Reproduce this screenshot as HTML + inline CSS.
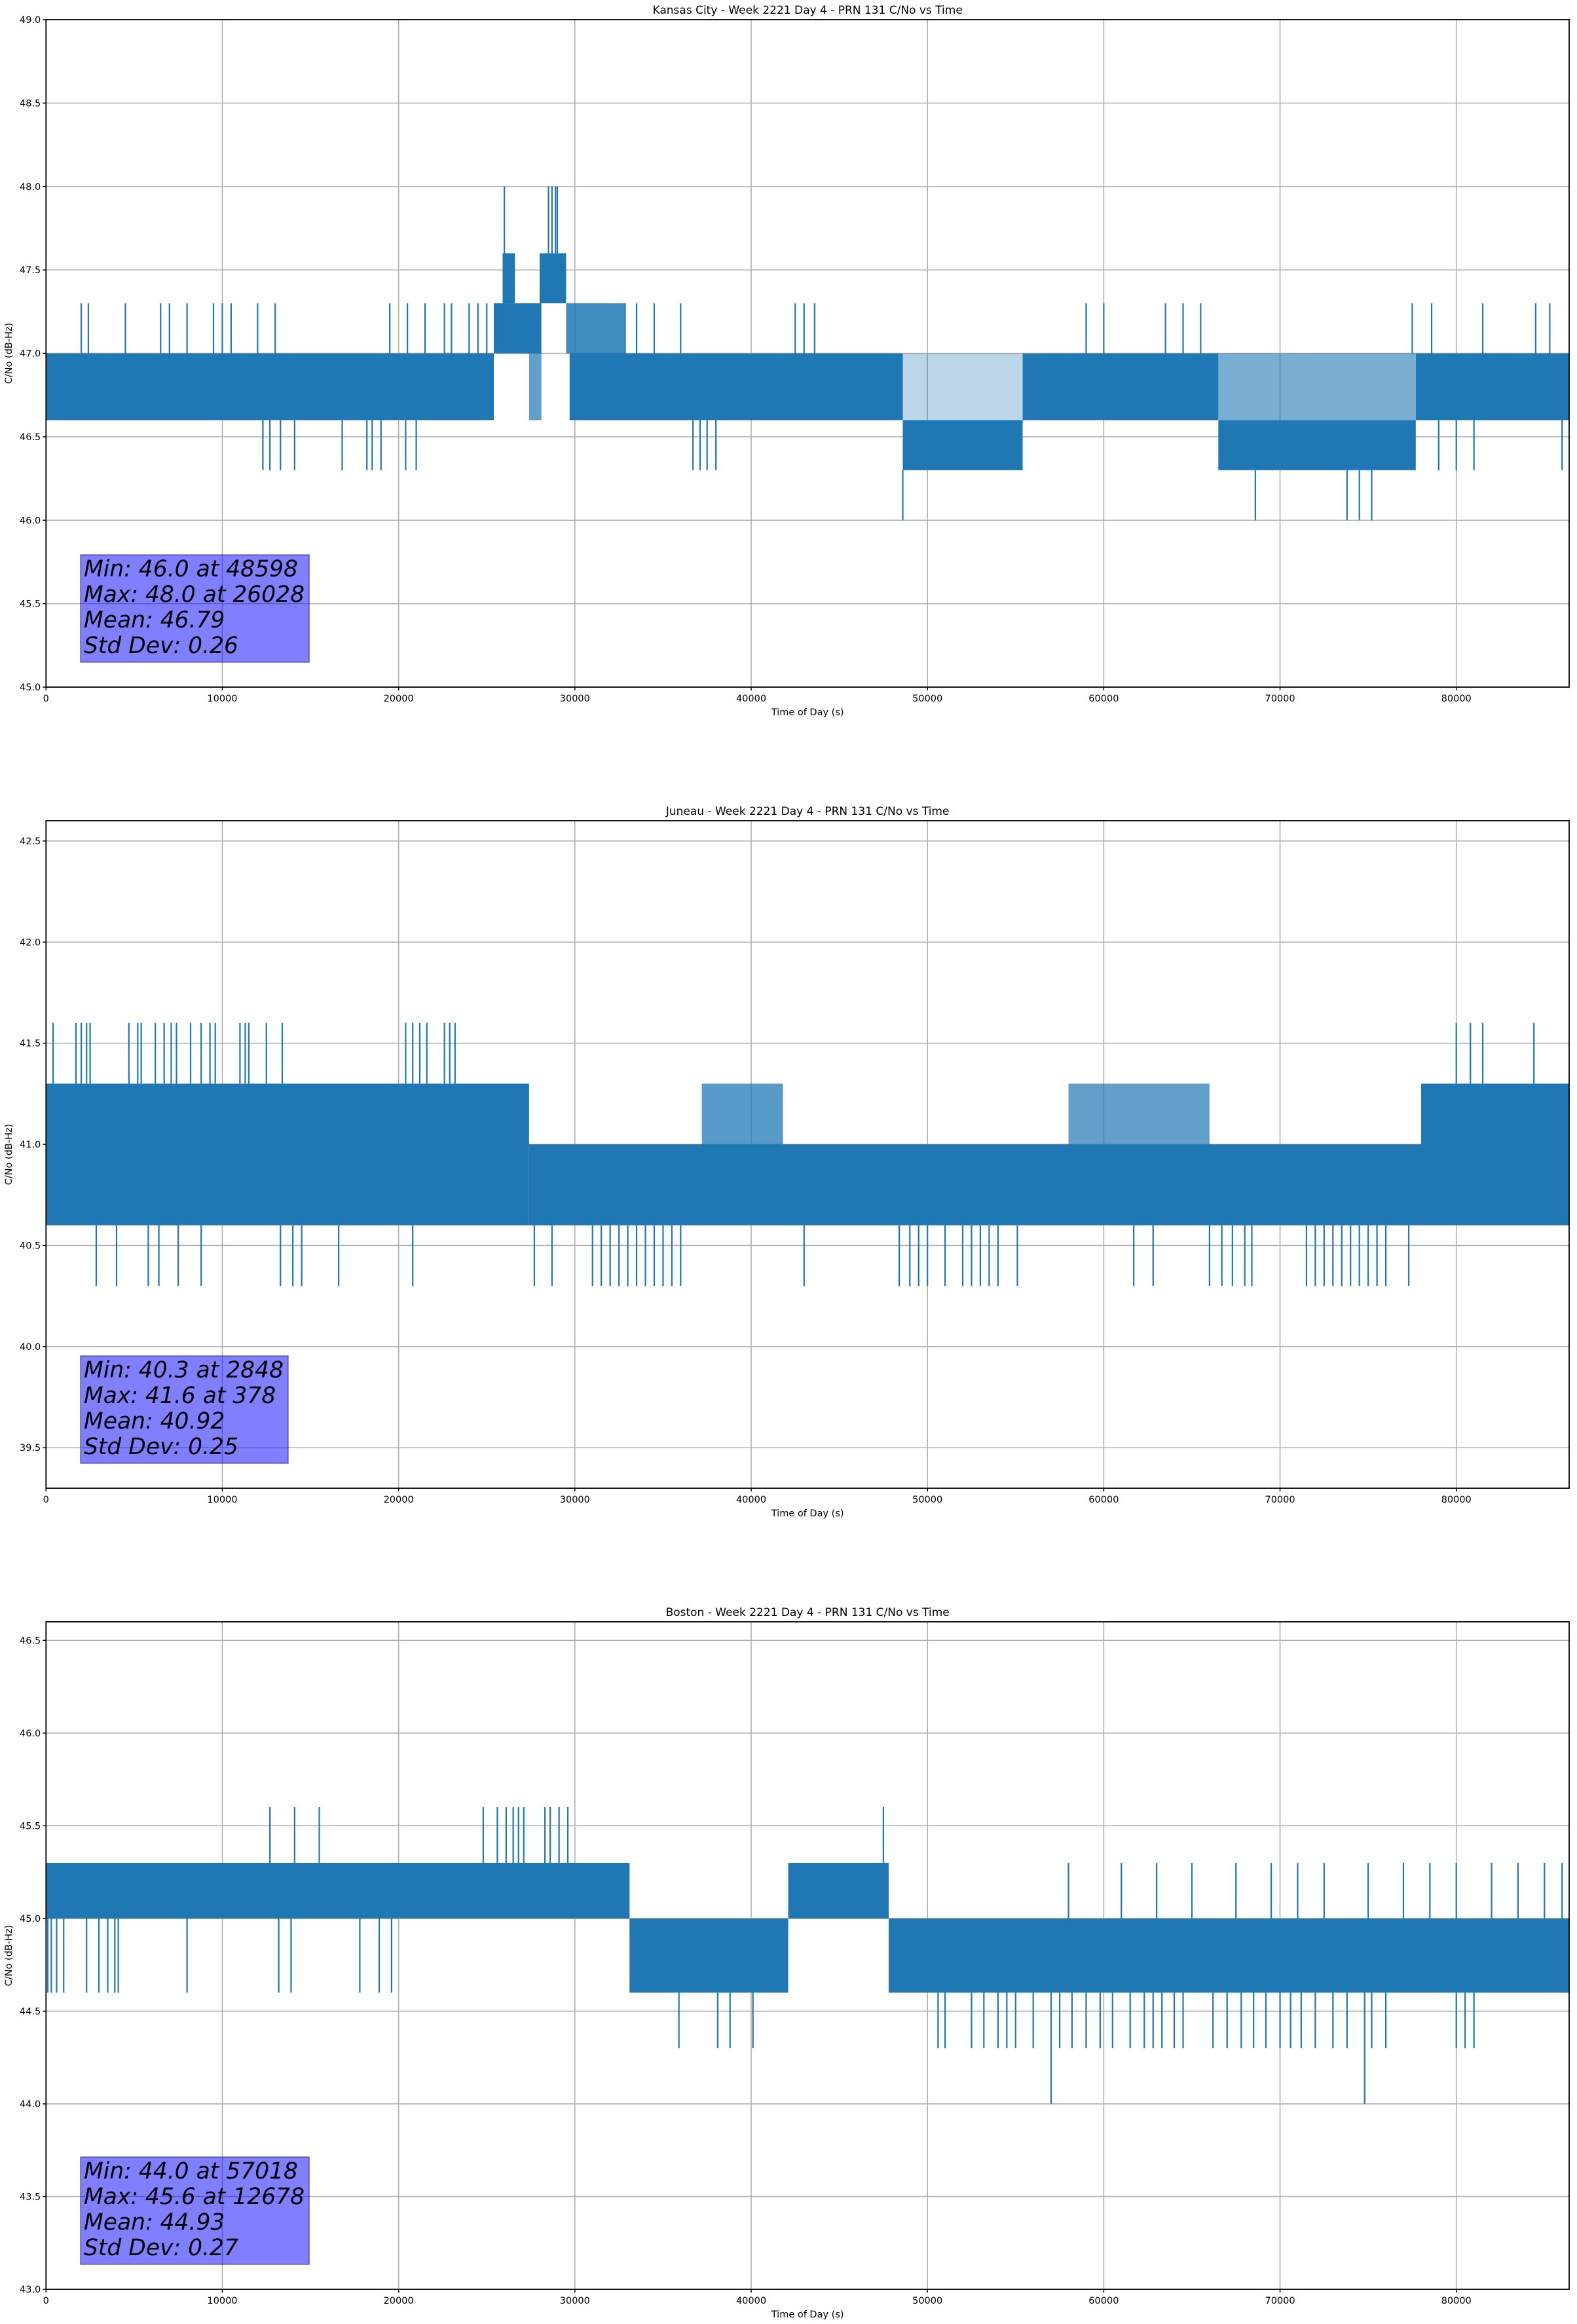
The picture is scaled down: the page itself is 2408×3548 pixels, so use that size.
<!DOCTYPE html>
<html><head><meta charset="utf-8"><style>
html,body{margin:0;padding:0;background:#fff}
svg{display:block}
text{font-family:"DejaVu Sans","Liberation Sans",sans-serif;fill:#000}
</style></head>
<body>
<svg id="fig" width="2408" height="3548" viewBox="0 0 2408 3548" xmlns="http://www.w3.org/2000/svg">
<rect x="0" y="0" width="2408" height="3548" fill="#fff"/>
</svg>
<script>
// ---------- data ----------
const xTicks = [0,10000,20000,30000,40000,50000,60000,70000,80000];
const titles = ["Kansas City - Week 2221 Day 4 - PRN 131 C/No vs Time",
                "Juneau - Week 2221 Day 4 - PRN 131 C/No vs Time",
                "Boston - Week 2221 Day 4 - PRN 131 C/No vs Time"];
const yLims = [[45,49],[39.3,42.6],[43,46.6]];
const yTicks1 = [45.0,45.5,46.0,46.5,47.0,47.5,48.0,48.5,49.0];
const yTicks2 = [39.5,40.0,40.5,41.0,41.5,42.0,42.5];
const yTicks3 = [43.0,43.5,44.0,44.5,45.0,45.5,46.0,46.5];
const stats1 = ["Min: 46.0 at 48598","Max: 48.0 at 26028","Mean: 46.79","Std Dev: 0.26"];
const stats2 = ["Min: 40.3 at 2848","Max: 41.6 at 378","Mean: 40.92","Std Dev: 0.25"];
const stats3 = ["Min: 44.0 at 57018","Max: 45.6 at 12678","Mean: 44.93","Std Dev: 0.27"];

// bands: [start, end, low, high, density]
const bands1 = [[0,25400,46.6,47.0,1],[25400,28100,47.0,47.3,1],[25900,26600,47.3,47.6,1],
 [28000,29500,47.3,47.6,1],[27400,28100,46.6,47.0,0.7],[29500,32900,47.0,47.3,0.85],
 [29700,48600,46.6,47.0,1],[48600,55400,46.3,46.6,1],[48600,55400,46.6,47.0,0.3],
 [55400,66500,46.6,47.0,1],[66500,77700,46.3,46.6,1],[66500,77700,46.6,47.0,0.6],
 [77700,86400,46.6,47.0,1]];
const spikeT1 = [2000,2400,4500,6500,7000,8000,9500,10000,10500,12000,13000,19500,20500,21500,22600,23000,24000,24500,25000,
 26000,28500,28700,28900,29000,33500,34500,36000,42500,43000,43600,59000,60000,63500,64500,65500,77500,78600,81500,84500,85300,
 12300,12700,13300,14100,16800,18200,18500,19000,20400,21000,36700,37100,37500,38000,79000,80000,81000,86000,
 48600,68600,73800,74500,75200];
const spikeV1 = [47.3,47.3,47.3,47.3,47.3,47.3,47.3,47.3,47.3,47.3,47.3,47.3,47.3,47.3,47.3,47.3,47.3,47.3,47.3,
 48.0,48.0,48.0,48.0,48.0,47.3,47.3,47.3,47.3,47.3,47.3,47.3,47.3,47.3,47.3,47.3,47.3,47.3,47.3,47.3,47.3,
 46.3,46.3,46.3,46.3,46.3,46.3,46.3,46.3,46.3,46.3,46.3,46.3,46.3,46.3,46.3,46.3,46.3,46.3,
 46.0,46.0,46.0,46.0,46.0];

const bands2 = [[0,27400,41.0,41.3,1],[0,27400,40.6,41.0,1],[27400,86400,40.6,41.0,1],
 [37200,41800,41.0,41.3,0.75],[58000,66000,41.0,41.3,0.7],[78000,86400,41.0,41.3,1]];
const spikeT2 = [400,1700,2000,2300,2500,4700,5200,5400,6200,6700,7100,7400,8200,8800,9300,9600,11000,11300,11500,12500,13400,
 20400,20800,21200,21600,22600,22900,23200,80000,80800,81500,84400,
 2848,4000,5800,6400,7500,8800,13300,14000,14500,16600,20800,27700,28700,31000,31500,32000,32500,33000,33500,34000,34500,35000,35500,36000,
 43000,48400,49000,49500,50000,51000,52000,52500,53000,53500,54000,55100,61700,62800,66000,66700,67300,68000,68400,
 71500,72000,72500,73000,73500,74000,74500,75000,75500,76000,77300];
const spikeV2 = [41.6,41.6,41.6,41.6,41.6,41.6,41.6,41.6,41.6,41.6,41.6,41.6,41.6,41.6,41.6,41.6,41.6,41.6,41.6,41.6,41.6,
 41.6,41.6,41.6,41.6,41.6,41.6,41.6,41.6,41.6,41.6,41.6,
 40.3,40.3,40.3,40.3,40.3,40.3,40.3,40.3,40.3,40.3,40.3,40.3,40.3,40.3,40.3,40.3,40.3,40.3,40.3,40.3,40.3,40.3,40.3,40.3,
 40.3,40.3,40.3,40.3,40.3,40.3,40.3,40.3,40.3,40.3,40.3,40.3,40.3,40.3,40.3,40.3,40.3,40.3,40.3,
 40.3,40.3,40.3,40.3,40.3,40.3,40.3,40.3,40.3,40.3,40.3];

const bands3 = [[0,33100,45.0,45.3,1],[33100,42100,44.6,45.0,1],[42100,47800,45.0,45.3,1],[47800,86400,44.6,45.0,1]];
const spikeT3 = [100,300,600,1000,2300,3000,3500,3900,4100,8000,13200,13900,17800,18900,19600,
 12700,14100,15500,24800,25600,26100,26500,26800,27100,28300,28600,29100,29600,47500,
 35900,38100,38800,40100,
 50600,51000,52500,53200,54000,54500,55000,56000,57500,58200,59000,59800,60500,61500,62300,62800,63300,64000,64500,66200,67000,67800,68500,69200,70000,70600,71200,72000,73000,73800,75200,76000,80000,80500,81000,
 57018,74800,
 58000,61000,63000,65000,67500,69500,71000,72500,75000,77000,78500,80000,82000,83500,85000,86000];
const spikeV3 = [44.6,44.6,44.6,44.6,44.6,44.6,44.6,44.6,44.6,44.6,44.6,44.6,44.6,44.6,44.6,
 45.6,45.6,45.6,45.6,45.6,45.6,45.6,45.6,45.6,45.6,45.6,45.6,45.6,45.6,
 44.3,44.3,44.3,44.3,
 44.3,44.3,44.3,44.3,44.3,44.3,44.3,44.3,44.3,44.3,44.3,44.3,44.3,44.3,44.3,44.3,44.3,44.3,44.3,44.3,44.3,44.3,44.3,44.3,44.3,44.3,44.3,44.3,44.3,44.3,44.3,44.3,44.3,44.3,44.3,
 44.0,44.0,
 45.3,45.3,45.3,45.3,45.3,45.3,45.3,45.3,45.3,45.3,45.3,45.3,45.3,45.3,45.3,45.3];

// ---------- rendering ----------
const NS = "http://www.w3.org/2000/svg";
const svg = document.getElementById("fig");
const L = 70.3, R = 2396, H = 1019, XMAX = 86400;
const tops = [30, 1253, 2476];
const blue = "#1f77b4";
function mk(tag, attrs, parent){ const e=document.createElementNS(NS,tag); for(const k in attrs) e.setAttribute(k,attrs[k]); (parent||svg).appendChild(e); return e; }

const charts = [
 {bands:bands1, st:spikeT1, sv:spikeV1, yt:yTicks1, stats:stats1, name:"kansas-city"},
 {bands:bands2, st:spikeT2, sv:spikeV2, yt:yTicks2, stats:stats2, name:"juneau"},
 {bands:bands3, st:spikeT3, sv:spikeV3, yt:yTicks3, stats:stats3, name:"boston"}
];

charts.forEach((c, i) => {
  const top = tops[i], bot = top + H;
  const [y0, y1] = yLims[i];
  const xs = t => L + (t / XMAX) * (R - L);
  const ys = v => bot - (v - y0) / (y1 - y0) * H;
  const g = mk("g", {});
  
  

  xTicks.forEach(t => {
    const ln = mk("line", {x1:xs(t), x2:xs(t), y1:top, y2:bot, stroke:"#b0b0b0", "stroke-width":1.6}, g);
    
    
  });
  c.yt.forEach(v => {
    const ln = mk("line", {x1:L, x2:R, y1:ys(v), y2:ys(v), stroke:"#b0b0b0", "stroke-width":1.6}, g);
    
    
  });

  const series = mk("g", {}, g);
  
  
  c.bands.forEach(b => {
    const r = mk("rect", {x:xs(b[0]), y:ys(b[3]), width:xs(b[1])-xs(b[0]), height:ys(b[2])-ys(b[3]), fill:blue, "fill-opacity":b[4]}, series);
    
    
  });
  c.st.forEach((t, k) => {
    const v = c.sv[k];
    let from = v;
    c.bands.forEach(b => { if (t >= b[0] && t <= b[1]) {
      if (v > b[3] && (from === v || b[3] > from)) from = b[3];
      if (v < b[2] && (from === v || b[2] < from)) from = b[2];
    }});
    if (from === v) from = v > (y0+y1)/2 ? v - 0.3 : v + 0.3;
    const ln = mk("line", {x1:xs(t), x2:xs(t), y1:ys(from), y2:ys(v), stroke:blue, "stroke-width":2.2}, series);
    
    
  });

  const fr = mk("rect", {x:L, y:top, width:R-L, height:H, fill:"none", stroke:"#000", "stroke-width":1.8}, g);
  
  

  xTicks.forEach(t => {
    mk("line", {x1:xs(t), x2:xs(t), y1:bot, y2:bot+5, stroke:"#000", "stroke-width":1.5}, g);
    const tx = mk("text", {x:xs(t), y:bot+22, "font-size":14.5, "text-anchor":"middle"}, g);
    tx.textContent = String(t);
    
    
  });
  c.yt.forEach(v => {
    mk("line", {x1:L-5, x2:L, y1:ys(v), y2:ys(v), stroke:"#000", "stroke-width":1.5}, g);
    const tx = mk("text", {x:L-8, y:ys(v)+5, "font-size":14.5, "text-anchor":"end"}, g);
    tx.textContent = v.toFixed(1);
    
    
  });

  const xl = mk("text", {x:(L+R)/2, y:bot+43, "font-size":14.5, "text-anchor":"middle"}, g);
  xl.textContent = "Time of Day (s)";
  
  
  const yl = mk("text", {x:0, y:0, "font-size":14.5, "text-anchor":"middle", transform:`translate(18,${(top+bot)/2}) rotate(-90)`}, g);
  yl.textContent = "C/No (dB-Hz)";
  
  
  const tt = mk("text", {x:(L+R)/2, y:top-9, "font-size":17, "text-anchor":"middle"}, g);
  tt.textContent = titles[i];
  
  

  const box = mk("rect", {x:123, y:bot-202, width:350, height:164, fill:"rgba(0,0,255,0.5)", stroke:"rgba(0,0,80,0.5)", "stroke-width":1.5}, g);
  
  
  let maxW = 0;
  c.stats.forEach((s, k) => {
    const tx = mk("text", {x:128, y:bot-169+k*39, "font-size":34.5, "font-style":"oblique"}, g);
    tx.textContent = s;
    
    
    try { maxW = Math.max(maxW, tx.getComputedTextLength()); } catch(e) {}
  });
  if (maxW > 0) box.setAttribute("width", maxW + 12);
});
</script>
</body></html>
